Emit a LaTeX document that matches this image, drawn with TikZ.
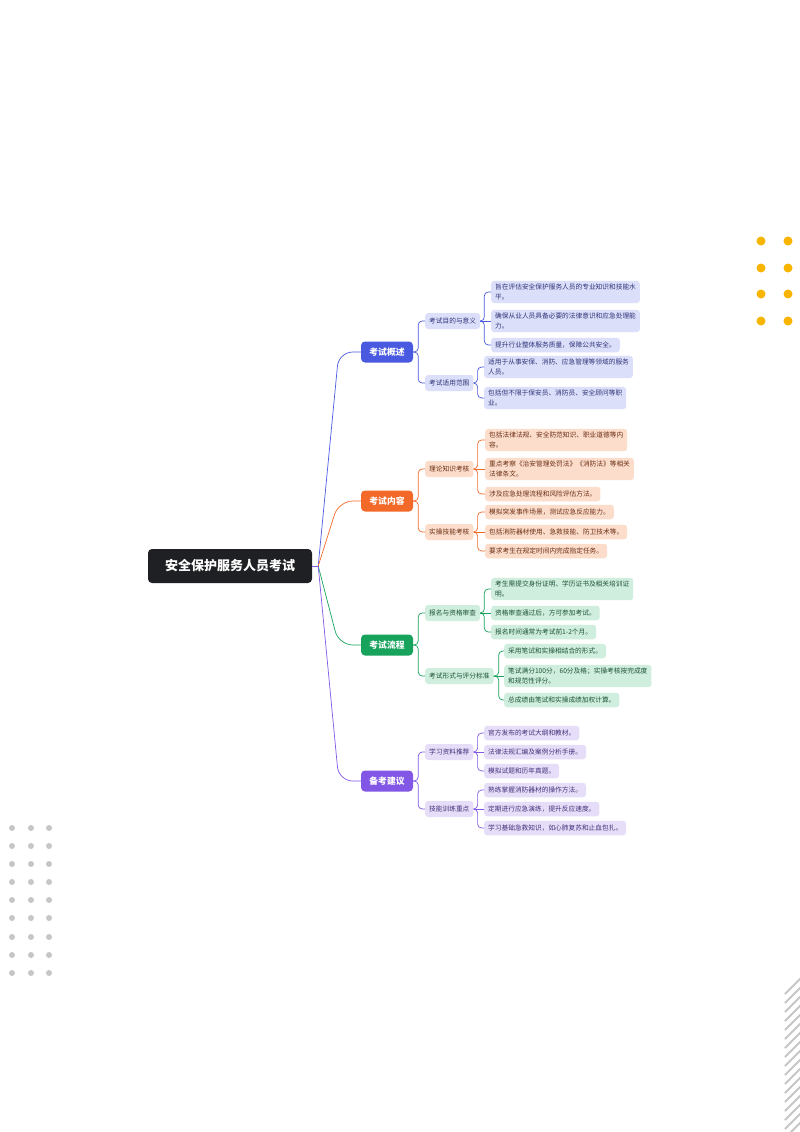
\documentclass[tikz,border=0pt]{standalone}
\usepackage{fontspec}
\newfontfamily\cjk{Noto Sans CJK SC}
\usepackage{tikz}
\usetikzlibrary{positioning}
\usepackage{xcolor}

\definecolor{bluemain}{HTML}{4A5AE0}
\definecolor{bluelight}{HTML}{DCDFF9}
\definecolor{bluetext}{HTML}{2E3478}
\definecolor{orangemain}{HTML}{F2692A}
\definecolor{orangelight}{HTML}{FCDDCB}
\definecolor{orangetext}{HTML}{6A2E14}
\definecolor{greenmain}{HTML}{17A35C}
\definecolor{greenlight}{HTML}{CFEEDD}
\definecolor{greentext}{HTML}{1E5236}
\definecolor{purplemain}{HTML}{8257E5}
\definecolor{purplelight}{HTML}{E6DEF8}
\definecolor{purpletext}{HTML}{44307A}
\definecolor{rootfill}{HTML}{1F2023}
\definecolor{dotyellow}{HTML}{F7B500}
\definecolor{dotgray}{HTML}{C6C6C6}

\tikzset{
  rootbox/.style={fill=rootfill, text=white, rounded corners=4pt, minimum width=164pt,
    minimum height=34pt, inner sep=0pt, font=\cjk\fontsize{13}{15}\selectfont\bfseries},
  mainbox/.style={fill=#1main, text=white, rounded corners=4pt, minimum width=52pt,
    minimum height=21pt, inner sep=0pt, font=\cjk\fontsize{8.8}{10}\selectfont\bfseries},
  subbox/.style={fill=#1light, text=#1text, rounded corners=3pt, minimum height=16pt,
    inner xsep=4pt, inner ysep=0pt, anchor=west, font=\cjk\fontsize{6.7}{10}\selectfont},
  leafbox/.style={fill=#1light, text=#1text, rounded corners=3pt, minimum height=14.5pt,
    inner xsep=4pt, inner ysep=3pt, anchor=west, align=left, font=\cjk\fontsize{6.7}{10}\selectfont},
  link/.style={draw=#1main, line width=0.7pt, rounded corners=4pt},
}

\begin{document}
\begin{tikzpicture}[x=1pt, y=-1pt]

\useasboundingbox[fill=white] (0,0) rectangle (800,1132);

% dots and stripes
{
\foreach \px in {761,788}
  \foreach \py in {241,268,294,321}
    \fill[dotyellow] (\px,\py) circle [radius=4.5];

\foreach \px in {12,31,49}
  \foreach \py in {828,846,864,882,900,918,937,955,973}
    \fill[dotgray] (\px,\py) circle [radius=3];

\begin{scope}
\clip (770,960) rectangle (800,1132);
\foreach \py in {980,989,...,1130}
  \draw[dotgray, line width=2pt] (785,\py+14) -- (803,\py-4);
\end{scope}
}

% root and main branches
\node[rootbox] (root) at (230,566) {安全保护服务人员考试};

\node[mainbox=blue] (b1) at (387,352) {考试概述};
\node[mainbox=orange] (b2) at (387,501) {考试内容};
\node[mainbox=green] (b3) at (387,645) {考试流程};
\node[mainbox=purple] (b4) at (387,781) {备考建议};

\draw[purplemain, line width=0.7pt] (root.east) -- ++(6,0) coordinate (hub);
\draw[link=blue, rounded corners=14pt] (hub) -- ([xshift=-22pt]b1.west) -- (b1.west);
\draw[link=orange, rounded corners=14pt] (hub) -- ([xshift=-22pt]b2.west) -- (b2.west);
\draw[link=green, rounded corners=14pt] (hub) -- ([xshift=-22pt]b3.west) -- (b3.west);
\draw[link=purple, rounded corners=14pt] (hub) -- ([xshift=-22pt]b4.west) -- (b4.west);

% blue branch
\begin{scope}
\node[subbox=blue] (b1a) at (425,321) {考试目的与意义};
\node[subbox=blue] (b1b) at (425,383) {考试适用范围};

\node[leafbox=blue] (b1a1) at (491,292) {旨在评估安全保护服务人员的专业知识和技能水\\平。};
\node[leafbox=blue] (b1a2) at (491,321) {确保从业人员具备必要的法律意识和应急处理能\\力。};
\node[leafbox=blue] (b1a3) at (491,345) {提升行业整体服务质量，保障公共安全。};
\node[leafbox=blue] (b1b1) at (484,367) {适用于从事安保、消防、应急管理等领域的服务\\人员。};
\node[leafbox=blue] (b1b2) at (484,398) {包括但不限于保安员、消防员、安全顾问等职\\业。};

\draw[link=blue] (b1.east) -- ++(5,0) |- (b1a.west);
\draw[link=blue] (b1.east) -- ++(5,0) |- (b1b.west);
\draw[link=blue] (b1a.east) -- ++(4,0) |- (b1a1.west);
\draw[link=blue] (b1a.east) -- (b1a2.west);
\draw[link=blue] (b1a.east) -- ++(4,0) |- (b1a3.west);
\draw[link=blue] (b1b.east) -- ++(4,0) |- (b1b1.west);
\draw[link=blue] (b1b.east) -- ++(4,0) |- (b1b2.west);
\end{scope}

% orange branch
\begin{scope}
\node[subbox=orange] (b2a) at (425,469) {理论知识考核};
\node[subbox=orange] (b2b) at (425,532) {实操技能考核};

\node[leafbox=orange] (b2a1) at (485,440) {包括法律法规、安全防范知识、职业道德等内\\容。};
\node[leafbox=orange] (b2a2) at (485,469) {重点考察《治安管理处罚法》《消防法》等相关\\法律条文。};
\node[leafbox=orange] (b2a3) at (485,494) {涉及应急处理流程和风险评估方法。};
\node[leafbox=orange] (b2b1) at (485,512) {模拟突发事件场景，测试应急反应能力。};
\node[leafbox=orange] (b2b2) at (485,532) {包括消防器材使用、急救技能、防卫技术等。};
\node[leafbox=orange] (b2b3) at (485,551) {要求考生在规定时间内完成指定任务。};

\draw[link=orange] (b2.east) -- ++(5,0) |- (b2a.west);
\draw[link=orange] (b2.east) -- ++(5,0) |- (b2b.west);
\draw[link=orange] (b2a.east) -- ++(4,0) |- (b2a1.west);
\draw[link=orange] (b2a.east) -- (b2a2.west);
\draw[link=orange] (b2a.east) -- ++(4,0) |- (b2a3.west);
\draw[link=orange] (b2b.east) -- ++(4,0) |- (b2b1.west);
\draw[link=orange] (b2b.east) -- (b2b2.west);
\draw[link=orange] (b2b.east) -- ++(4,0) |- (b2b3.west);
\end{scope}

% green branch
\begin{scope}
\node[subbox=green] (b3a) at (425,613) {报名与资格审查};
\node[subbox=green] (b3b) at (425,676) {考试形式与评分标准};

\node[leafbox=green] (b3a1) at (491,589) {考生需提交身份证明、学历证书及相关培训证\\明。};
\node[leafbox=green] (b3a2) at (491,613) {资格审查通过后，方可参加考试。};
\node[leafbox=green] (b3a3) at (491,632) {报名时间通常为考试前1-2个月。};
\node[leafbox=green] (b3b1) at (504,651) {采用笔试和实操相结合的形式。};
\node[leafbox=green] (b3b2) at (504,676) {笔试满分100分，60分及格；实操考核按完成度\\和规范性评分。};
\node[leafbox=green] (b3b3) at (504,700) {总成绩由笔试和实操成绩加权计算。};

\draw[link=green] (b3.east) -- ++(5,0) |- (b3a.west);
\draw[link=green] (b3.east) -- ++(5,0) |- (b3b.west);
\draw[link=green] (b3a.east) -- ++(4,0) |- (b3a1.west);
\draw[link=green] (b3a.east) -- (b3a2.west);
\draw[link=green] (b3a.east) -- ++(4,0) |- (b3a3.west);
\draw[link=green] (b3b.east) -- ++(5,0) |- (b3b1.west);
\draw[link=green] (b3b.east) -- (b3b2.west);
\draw[link=green] (b3b.east) -- ++(5,0) |- (b3b3.west);
\end{scope}

% purple branch
\begin{scope}
\node[subbox=purple] (b4a) at (425,752) {学习资料推荐};
\node[subbox=purple] (b4b) at (425,809) {技能训练重点};

\node[leafbox=purple] (b4a1) at (484,733) {官方发布的考试大纲和教材。};
\node[leafbox=purple] (b4a2) at (484,752) {法律法规汇编及案例分析手册。};
\node[leafbox=purple] (b4a3) at (484,771) {模拟试题和历年真题。};
\node[leafbox=purple] (b4b1) at (484,790) {熟练掌握消防器材的操作方法。};
\node[leafbox=purple] (b4b2) at (484,809) {定期进行应急演练，提升反应速度。};
\node[leafbox=purple] (b4b3) at (484,828) {学习基础急救知识，如心肺复苏和止血包扎。};

\draw[link=purple] (b4.east) -- ++(5,0) |- (b4a.west);
\draw[link=purple] (b4.east) -- ++(5,0) |- (b4b.west);
\draw[link=purple] (b4a.east) -- ++(4,0) |- (b4a1.west);
\draw[link=purple] (b4a.east) -- (b4a2.west);
\draw[link=purple] (b4a.east) -- ++(4,0) |- (b4a3.west);
\draw[link=purple] (b4b.east) -- ++(4,0) |- (b4b1.west);
\draw[link=purple] (b4b.east) -- (b4b2.west);
\draw[link=purple] (b4b.east) -- ++(4,0) |- (b4b3.west);
\end{scope}

\end{tikzpicture}
\end{document}
